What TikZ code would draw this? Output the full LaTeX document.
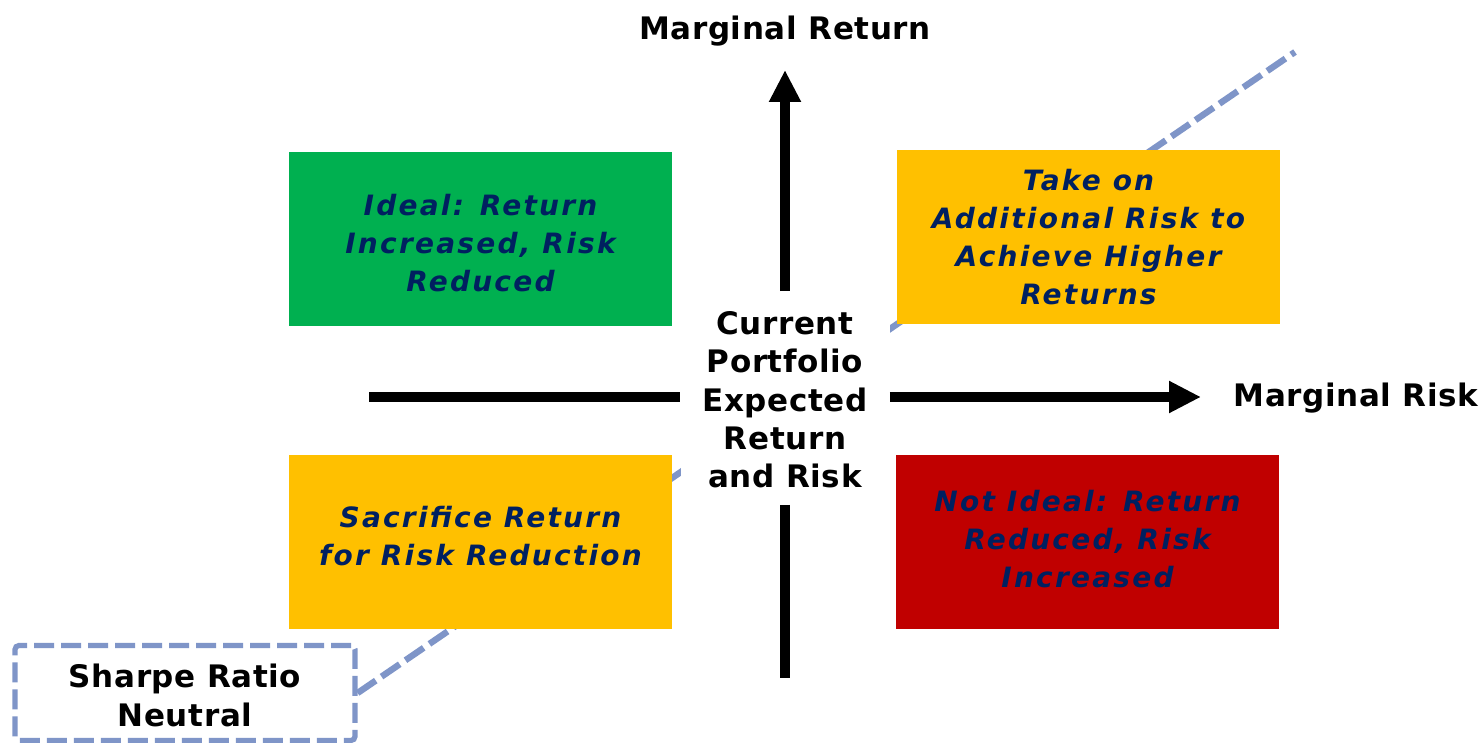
\documentclass[tikz,border=0pt]{standalone}
\usepackage{fontspec}
\setmainfont{DejaVu Sans}
\newfontfamily\quadfont[LetterSpace=8]{DejaVu Sans}
\newfontfamily\lblfont[LetterSpace=2]{DejaVu Sans}
\usetikzlibrary{arrows.meta}
\definecolor{navy}{HTML}{002060}
\definecolor{qgreen}{HTML}{00B050}
\definecolor{qyellow}{HTML}{FFC000}
\definecolor{qred}{HTML}{C00000}
\definecolor{dashblue}{HTML}{7F95C8}
\newcommand\pushdn[1]{\rule{0pt}{\dimexpr\fontcharht\font`d+#1\relax}}
\newcommand\pushup[1]{\rule[-#1]{0pt}{#1}}
\begin{document}
\begin{tikzpicture}[x=0.5pt,y=-0.5pt,
  quad/.style={minimum width=191.5pt, minimum height=87pt, inner sep=0pt, align=center,
    text=navy, font=\quadfont\fontsize{14}{19}\selectfont\bfseries\itshape},
  lbl/.style={inner sep=0pt, align=center, text=black, font=\lblfont\fontsize{15.5}{19.1}\selectfont\bfseries},
  axis/.style={line width=5pt},
  axisarrow/.style={line width=5pt, -{Triangle[length=16pt,width=15pt]}},
  srdash/.style={draw=dashblue, line width=3.2pt, dash pattern=on 11pt off 3.5pt},
  srbox/.style={draw=dashblue, line width=2.6pt, dash pattern=on 10pt off 3.5pt, rounded corners=2pt},
]
\useasboundingbox (0,0) rectangle (1484,743);
% Sharpe ratio neutral box and line
\node[lbl, srbox, minimum width=170pt, minimum height=47.5pt, fill=white]
  (sharpe) at (185,693) {\pushdn{3pt}Sharpe Ratio\\Neutral};
\coordinate (dtop) at (1295,52);
\draw[srdash] (sharpe.east) -- (dtop);
% quadrant boxes
\node[quad, fill=qgreen] (ideal) at (480.5,239) {\pushdn{4pt}Ideal: Return\\Increased, Risk\\Reduced};
\node[quad, fill=qyellow] (takeon) at (1088.5,237) {Take on\\Additional Risk to\\Achieve Higher\\Returns};
\node[quad, fill=qyellow] (sacrifice) at (480.5,542) {Sacrifice Return\\for Risk Reduction\pushup{6pt}};
\node[quad, fill=qred] (notideal) at (1087.5,542) {Not Ideal: Return\\Reduced, Risk\\Increased\pushup{3pt}};
% centre
\node[lbl, fill=white, minimum width=104.5pt, minimum height=106.5pt] (center) at (785,398)
  {\pushdn{2pt}Current\\Portfolio\\Expected\\Return\\and Risk};
% axes
\coordinate (hl) at (369,397);
\coordinate (hr) at (1201,397);
\coordinate (vt) at (785,70);
\coordinate (vb) at (785,678);
\draw[axis] (hl) -- (hl -| center.west);
\draw[axisarrow] (hr -| center.east) -- (hr);
\draw[axisarrow] (vt |- center.north) -- (vt);
\draw[axis] (vb |- center.south) -- (vb);
% axis labels
\node[lbl] (mret) at (785,31) {Marginal Return};
\node[lbl] (mrisk) at (1356,398) {Marginal Risk};
\end{tikzpicture}
\end{document}
